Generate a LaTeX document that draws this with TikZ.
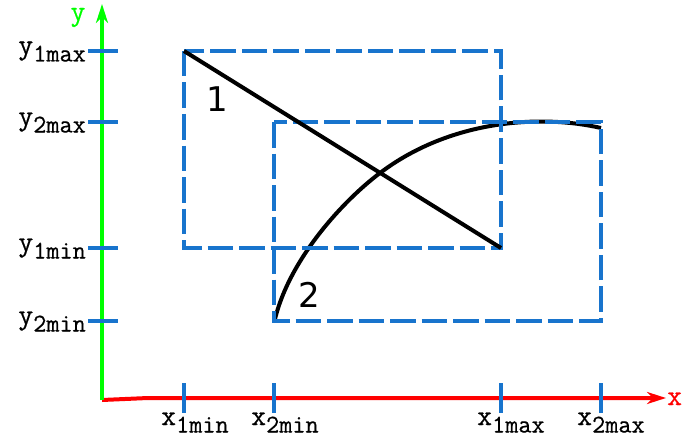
\documentclass[tikz,border=0pt]{standalone}
\usepackage{fontspec}
\newfontfamily\monof[FakeBold=0.6]{Latin Modern Mono}
\newfontfamily\sansf{DejaVu Sans}
\usetikzlibrary{arrows.meta}
\definecolor{boxblue}{RGB}{24,116,205}
\definecolor{axgreen}{RGB}{0,255,0}
\definecolor{axred}{RGB}{255,0,0}
\newcommand{\mylbl}[2]{{\fontsize{29}{32}\selectfont #1}\raisebox{-7.5pt}{\fontsize{25.5}{28}\selectfont #2}}
\begin{document}
\begin{tikzpicture}[x=1pt,y=-1pt,
  axisline/.style={line width=4pt},
  tipstyle/.style={-{Stealth[length=19pt,width=12pt,inset=6pt]}},
  tickline/.style={draw=boxblue,line width=4pt},
  boxline/.style={draw=boxblue,line width=4pt,dash pattern=on 25.5pt off 6pt},
  curveline/.style={draw=black,line width=4pt},
  ylab/.style={anchor=base east,inner sep=0pt,font=\monof},
  xlab/.style={anchor=base west,inner sep=0pt,font=\monof},
  numlab/.style={inner sep=0pt,font=\sansf\fontsize{34}{40}\selectfont}]
\useasboundingbox (0,0) rectangle (682,441);
% axes
\coordinate (O) at (102,400);
\coordinate (Okink) at (148,398);
\coordinate (Xend) at (666,398);
\coordinate (Yend) at (102,4);
\draw[axisline,axred,tipstyle] (O) -- (Okink) -- (Xend);
\draw[axisline,axgreen,tipstyle] (O) -- (Yend);
\node[anchor=base,inner sep=0pt,text height=12pt,font=\monof\fontsize{29}{32}\selectfont,text=axgreen] (ylabel) at (78,20.5) {y};
\node[anchor=base west,inner sep=0pt,font=\monof\fontsize{29}{32}\selectfont,text=axred] (xlabel) at (667,405) {x};
% curve 2
\coordinate (c0) at (275,319);
\coordinate (cm) at (380,173);
\coordinate (c1) at (601,128);
\draw[curveline] (c0) .. controls (290,258) and (344,200) .. (cm)
  .. controls (450,120) and (540,114) .. (c1);
% rectangles
\coordinate (r1a) at (184,51);
\coordinate (r1b) at (501,248);
\coordinate (r2a) at (274,122);
\coordinate (r2b) at (601,321);
\draw[boxline] (r1a) rectangle (r1b);
\draw[boxline] (r2a) rectangle (r2b);
% line 1
\draw[curveline] (r1a) -- (r1b);
\node[numlab] (n1) at (217,99.5) {1};
\node[numlab] (n2) at (309,295) {2};
% ticks
\foreach \xx in {184,274,501,601}{
  \draw[tickline] (\xx,383) -- (\xx,413);
}
\foreach \yy in {51,122,248,321}{
  \draw[tickline] (88,\yy) -- (118,\yy);
}
% labels
\node[ylab] (ly1max) at (86,54) {\mylbl{y}{1max}};
\node[ylab] (ly2max) at (86,125) {\mylbl{y}{2max}};
\node[ylab] (ly1min) at (86,251) {\mylbl{y}{1min}};
\node[ylab] (ly2min) at (86,324) {\mylbl{y}{2min}};
\node[xlab] (lx1min) at (161,425) {\mylbl{x}{1min}};
\node[xlab] (lx2min) at (251,425) {\mylbl{x}{2min}};
\node[xlab] (lx1max) at (477,425) {\mylbl{x}{1max}};
\node[xlab] (lx2max) at (577,425) {\mylbl{x}{2max}};
\end{tikzpicture}
\end{document}
